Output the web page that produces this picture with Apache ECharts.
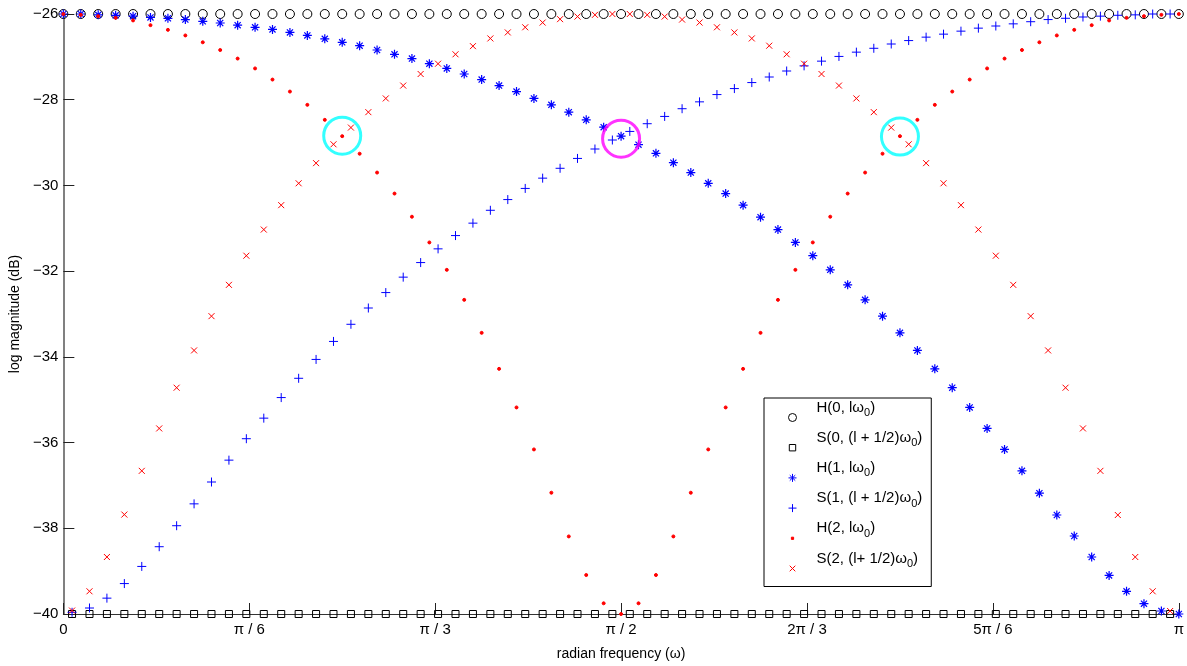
<!DOCTYPE html>
<html>
<head>
<meta charset="utf-8">
<script src="https://cdn.jsdelivr.net/npm/echarts/dist/echarts.min.js"></script>
<style>
  html, body { margin: 0; padding: 0; background: #ffffff; }
  #chart { width: 1187px; height: 666px; }
</style>
</head>
<body>
<div id="chart"></div>
<script>
// Number of frequency bins across [0, pi]; H samples sit on l*w0, S samples on (l + 1/2)*w0
const BINS = 64;

// log magnitude (dB) of each filter at the sample frequencies
const h0 = [
  -26, -26, -26, -26, -26, -26, -26, -26, -26, -26, -26, -26, -26, -26, -26, -26,
  -26, -26, -26, -26, -26, -26, -26, -26, -26, -26, -26, -26, -26, -26, -26, -26,
  -26, -26, -26, -26, -26, -26, -26, -26, -26, -26, -26, -26, -26, -26, -26, -26,
  -26, -26, -26, -26, -26, -26, -26, -26, -26, -26, -26, -26, -26, -26, -26, -26,
  -26
];
const s0 = [
  -40, -40, -40, -40, -40, -40, -40, -40, -40, -40, -40, -40, -40, -40, -40, -40,
  -40, -40, -40, -40, -40, -40, -40, -40, -40, -40, -40, -40, -40, -40, -40, -40,
  -40, -40, -40, -40, -40, -40, -40, -40, -40, -40, -40, -40, -40, -40, -40, -40,
  -40, -40, -40, -40, -40, -40, -40, -40, -40, -40, -40, -40, -40, -40, -40, -40
];
const h1 = [
  -26.00, -26.00, -26.02, -26.03, -26.05, -26.08, -26.10, -26.13, -26.17, -26.21,
  -26.26, -26.31, -26.36, -26.43, -26.50, -26.58, -26.66, -26.74, -26.84, -26.94,
  -27.04, -27.16, -27.27, -27.40, -27.53, -27.67, -27.81, -27.97, -28.12, -28.29,
  -28.47, -28.64, -28.85, -29.05, -29.25, -29.47, -29.70, -29.95, -30.19, -30.46,
  -30.74, -31.03, -31.33, -31.64, -31.97, -32.32, -32.67, -33.05, -33.44, -33.85,
  -34.28, -34.72, -35.18, -35.67, -36.16, -36.66, -37.18, -37.69, -38.18, -38.67,
  -39.10, -39.47, -39.76, -39.93, -40.00
];
const s1 = [
  -39.96, -39.86, -39.63, -39.29, -38.89, -38.43, -37.94, -37.43, -36.92, -36.41,
  -35.91, -35.43, -34.95, -34.50, -34.06, -33.64, -33.24, -32.86, -32.50, -32.14,
  -31.80, -31.48, -31.17, -30.88, -30.58, -30.33, -30.07, -29.83, -29.60, -29.37,
  -29.15, -28.94, -28.74, -28.56, -28.39, -28.21, -28.05, -27.88, -27.74, -27.60,
  -27.47, -27.33, -27.21, -27.10, -26.99, -26.89, -26.80, -26.70, -26.62, -26.54,
  -26.47, -26.40, -26.33, -26.28, -26.23, -26.18, -26.13, -26.10, -26.07, -26.05,
  -26.03, -26.02, -26.00, -26.00
];
const h2 = [
  -26.00, -26.02, -26.05, -26.09, -26.15, -26.26, -26.37, -26.50, -26.66, -26.84,
  -27.04, -27.27, -27.53, -27.81, -28.12, -28.47, -28.85, -29.26, -29.70, -30.19,
  -30.73, -31.33, -31.97, -32.67, -33.44, -34.28, -35.18, -36.16, -37.17, -38.19,
  -39.09, -39.75, -40.00, -39.75, -39.09, -38.19, -37.17, -36.16, -35.18, -34.28,
  -33.44, -32.67, -31.97, -31.33, -30.73, -30.19, -29.70, -29.26, -28.85, -28.47,
  -28.12, -27.81, -27.53, -27.27, -27.04, -26.84, -26.66, -26.50, -26.37, -26.26,
  -26.15, -26.09, -26.05, -26.02, -26.00
];
const s2 = [
  -39.92, -39.47, -38.67, -37.68, -36.66, -35.67, -34.72, -33.85, -33.05, -32.32,
  -31.64, -31.03, -30.46, -29.95, -29.48, -29.04, -28.65, -28.29, -27.97, -27.67,
  -27.40, -27.16, -26.94, -26.75, -26.57, -26.43, -26.31, -26.20, -26.12, -26.06,
  -26.02, -26.00, -26.00, -26.02, -26.06, -26.13, -26.20, -26.31, -26.43, -26.57,
  -26.74, -26.94, -27.16, -27.40, -27.67, -27.97, -28.29, -28.65, -29.04, -29.48,
  -29.95, -30.46, -31.03, -31.64, -32.32, -33.05, -33.85, -34.72, -35.67, -36.66,
  -37.69, -38.67, -39.47, -39.93
];

// highlighted crossing points: [frequency, dB]
const crossingsSide = [[Math.PI / 4, -28.84], [3 * Math.PI / 4, -28.86]];
const crossingsMid = [[Math.PI / 2, -28.91]];

const xTickLabels = ['0', 'π / 6', 'π / 3', 'π / 2', '2π / 3', '5π / 6', 'π'];

const seriesNames = [
  'H(0, lω0)', 'S(0, (l + 1/2)ω0)', 'H(1, lω0)',
  'S(1, (l + 1/2)ω0)', 'H(2, lω0)', 'S(2, (l+ 1/2)ω0)'
];
// legend text with the trailing 0 set as a subscript of ω
const legendRich = {
  'H(0, lω0)': '{a|H(0, lω}{b|0}{a|)}',
  'S(0, (l + 1/2)ω0)': '{a|S(0, (l + 1/2)ω}{b|0}{a|)}',
  'H(1, lω0)': '{a|H(1, lω}{b|0}{a|)}',
  'S(1, (l + 1/2)ω0)': '{a|S(1, (l + 1/2)ω}{b|0}{a|)}',
  'H(2, lω0)': '{a|H(2, lω}{b|0}{a|)}',
  'S(2, (l+ 1/2)ω0)': '{a|S(2, (l+ 1/2)ω}{b|0}{a|)}'
};

const onBins = vals => vals.map((v, l) => [l * Math.PI / BINS, v]);
const onHalfBins = vals => vals.map((v, l) => [(l + 0.5) * Math.PI / BINS, v]);

const BLUE = '#0000ff';
const RED = '#ff0000';
const SYM_PLUS = 'path://M0,5L10,5M5,0L5,10';
const SYM_STAR = 'path://M0,5L10,5M5,0L5,10M1.6,1.6L8.4,8.4M8.4,1.6L1.6,8.4';
const SYM_CROSS = 'path://M0,0L10,10M10,0L0,10';
const ICON_SQUARE = 'path://M0,0M10,10M1,1L9,1L9,9L1,9Z';
const ICON_DOT = 'path://M0,0M10,10M3.6,3.6L6.4,3.6L6.4,6.4L3.6,6.4Z';
const ICON_CROSS = 'path://M0,0M10,10M1.5,1.5L8.5,8.5M8.5,1.5L1.5,8.5';

const FONT = '"Liberation Sans", Arial, Helvetica, sans-serif';

function markerSeries(name, data, symbol, size, fill, stroke, width) {
  return {
    name: name,
    type: 'scatter',
    data: data,
    symbol: symbol,
    symbolSize: size,
    clip: false,
    silent: true,
    itemStyle: { color: fill, borderColor: stroke, borderWidth: width || 1, opacity: 1 },
    emphasis: { disabled: true }
  };
}

const chart = echarts.init(document.getElementById('chart'), null, { renderer: 'canvas' });

chart.setOption({
  animation: false,
  backgroundColor: '#ffffff',
  grid: { left: 62, right: 4, top: 14, bottom: 50, containLabel: false },
  xAxis: {
    type: 'value',
    min: 0,
    max: Math.PI,
    interval: Math.PI / 6,
    name: 'radian frequency (ω)',
    nameLocation: 'middle',
    nameGap: 33,
    nameTextStyle: { color: '#000', fontSize: 14, fontFamily: FONT },
    axisLine: { show: true, onZero: false, lineStyle: { color: '#333', width: 1 } },
    axisTick: { show: true, inside: true, length: 11, lineStyle: { color: '#222', width: 1 } },
    axisLabel: {
      color: '#000', fontSize: 15, fontFamily: FONT, margin: 8,
      formatter: v => xTickLabels[Math.round(v / (Math.PI / 6))]
    },
    splitLine: { show: false }
  },
  yAxis: {
    type: 'value',
    min: -40,
    max: -26,
    interval: 2,
    name: 'log magnitude (dB)',
    nameLocation: 'middle',
    nameGap: 30,
    nameTextStyle: { color: '#000', fontSize: 14, fontFamily: FONT },
    axisLine: { show: true, lineStyle: { color: '#808080', width: 2 } },
    axisTick: { show: true, inside: true, length: 11, lineStyle: { color: '#222', width: 1 } },
    axisLabel: {
      color: '#000', fontSize: 15, fontFamily: FONT, margin: 5,
      formatter: v => String(v).replace('-', '\u2212')
    },
    splitLine: { show: false }
  },
  legend: {
    orient: 'vertical',
    left: 764,
    top: 398,
    padding: [2, 9, 1, 24],
    itemWidth: 38,
    itemHeight: 8,
    itemGap: -4.3,
    align: 'left',
    selectedMode: false,
    backgroundColor: '#ffffff',
    borderColor: '#000000',
    borderWidth: 1,
    borderRadius: 0,
    itemStyle: { borderWidth: 1 },
    formatter: name => legendRich[name],
    textStyle: {
      color: '#000',
      fontFamily: FONT,
      fontSize: 15,
      lineHeight: 34,
      rich: {
        a: { fontSize: 15, fontFamily: FONT, color: '#000', height: 14, lineHeight: 34, verticalAlign: 'top' },
        b: { fontSize: 11, fontFamily: FONT, color: '#000', height: 25, lineHeight: 34, verticalAlign: 'top' }
      }
    },
    data: [
      { name: seriesNames[0], icon: 'circle' },
      { name: seriesNames[1], icon: ICON_SQUARE },
      { name: seriesNames[2], icon: SYM_STAR },
      { name: seriesNames[3], icon: SYM_PLUS },
      { name: seriesNames[4], icon: ICON_DOT },
      { name: seriesNames[5], icon: ICON_CROSS }
    ]
  },
  series: [
    markerSeries(seriesNames[0], onBins(h0), 'circle', 9, 'rgba(0,0,0,0)', '#000000'),
    markerSeries(seriesNames[1], onHalfBins(s0), 'rect', 7, 'rgba(0,0,0,0)', '#000000'),
    markerSeries(seriesNames[2], onBins(h1), SYM_STAR, 9, BLUE, BLUE, 1.2),
    markerSeries(seriesNames[3], onHalfBins(s1), SYM_PLUS, 9, BLUE, BLUE),
    markerSeries(seriesNames[4], onBins(h2), 'circle', 3, RED, RED),
    markerSeries(seriesNames[5], onHalfBins(s2), SYM_CROSS, 6, RED, RED),
    {
      name: 'crossings-side',
      type: 'scatter',
      data: crossingsSide,
      symbol: 'circle',
      symbolSize: 37,
      clip: false,
      silent: true,
      z: 5,
      itemStyle: { color: 'rgba(0,0,0,0)', borderColor: '#00ffff', borderWidth: 3 }
    },
    {
      name: 'crossings-mid',
      type: 'scatter',
      data: crossingsMid,
      symbol: 'circle',
      symbolSize: 37,
      clip: false,
      silent: true,
      z: 5,
      itemStyle: { color: 'rgba(0,0,0,0)', borderColor: '#ff00ff', borderWidth: 3 }
    }
  ]
});
</script>
</body>
</html>
